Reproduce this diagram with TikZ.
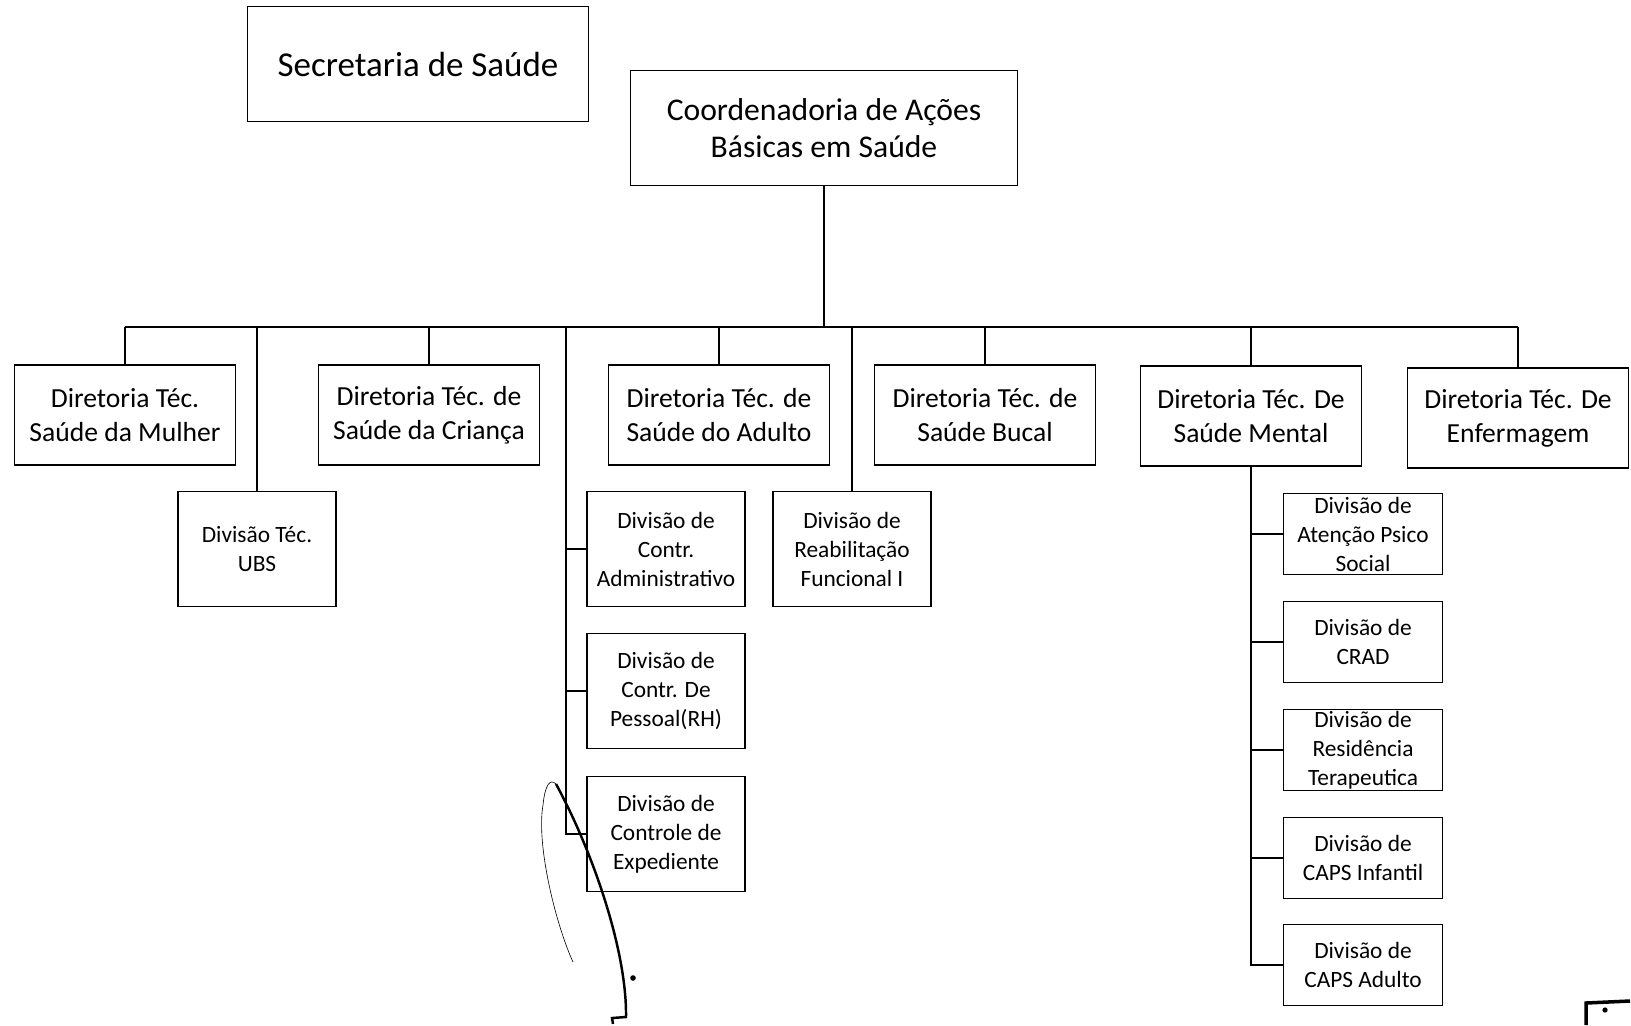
\documentclass[tikz,border=0pt]{standalone}
\usepackage{fontspec}
\setmainfont{Carlito}
\usepackage{tikz}
\usetikzlibrary{positioning,calc}

\begin{document}
\begin{tikzpicture}[x=0.02cm,y=-0.02cm,line width=0.7pt,
  diretoria/.style={draw,align=center,minimum width=4.42cm,minimum height=2cm,
    font=\fontsize{15.7}{19.5}\selectfont},
  divisao/.style={draw,align=center,minimum width=3.16cm,minimum height=2.3cm,
    font=\fontsize{13.3}{16.5}\selectfont},
  divmental/.style={draw,align=center,minimum width=3.18cm,minimum height=1.62cm,
    inner ysep=0pt,font=\fontsize{13.3}{16.5}\selectfont}]
  \useasboundingbox (0,0) rectangle (1631,1025);
  % top boxes
  \node[draw,minimum width=6.82cm,minimum height=2.3cm,font=\fontsize{19.9}{23}\selectfont] (sec) at (418,64) {Secretaria de Saúde};
  \node[draw,align=center,minimum width=7.74cm,minimum height=2.3cm,font=\fontsize{18}{21.3}\selectfont] (coord) at (824,128) {Coordenadoria de Ações\\Básicas em Saúde};
  % diretorias
  \node[diretoria] (mulher) at (125,415) {Diretoria Téc.\\Saúde da Mulher};
  \node[diretoria] (crianca) at (429,415) {Diretoria Téc. de\\Saúde da Criança};
  \node[diretoria] (adulto) at (719,415) {Diretoria Téc. de\\Saúde do Adulto};
  \node[diretoria] (bucal) at (985,415) {Diretoria Téc. de\\Saúde Bucal};
  \node[diretoria] (mental) at (1251,416) {Diretoria Téc. De\\Saúde Mental};
  \node[diretoria] (enferm) at (1518,418) {Diretoria Téc. De\\Enfermagem};
  % divisoes
  \node[divisao] (ubs) at (257,549) {Divisão Téc.\\UBS};
  \node[divisao] (admin) at (666,549) {Divisão de\\Contr.\\Administrativo};
  \node[divisao] (rh) at (666,691) {Divisão de\\Contr. De\\Pessoal(RH)};
  \node[divisao] (exped) at (666,834) {Divisão de\\Controle de\\Expediente};
  \node[divisao] (reab) at (852,549) {Divisão de\\Reabilitação\\Funcional I};
  \node[divmental] (psico) at (1363,534) {Divisão de\\Atenção Psico\\Social};
  \node[divmental] (crad) at (1363,642) {Divisão de\\CRAD};
  \node[divmental] (resid) at (1363,750) {Divisão de\\Residência\\Terapeutica};
  \node[divmental] (capsi) at (1363,858) {Divisão de\\CAPS Infantil};
  \node[divmental] (capsa) at (1363,965) {Divisão de\\CAPS Adulto};
  % connectors
  \coordinate (bus) at (824,327);
  \coordinate (trunkA) at (566,327);
  \draw (coord) -- (bus);
  \draw (mulher.north |- bus) -- (enferm.north |- bus);
  \foreach \n in {mulher,crianca,adulto,bucal,mental,enferm,ubs,reab} {
    \draw (\n.north) -- (\n.north |- bus);
  }
  \draw (trunkA) |- (exped.west);
  \foreach \n in {admin,rh} {
    \draw (\n.west) -- (\n.west -| trunkA);
  }
  \draw (mental.south) |- (capsa.west);
  \foreach \n in {psico,crad,resid,capsi} {
    \draw (\n.west) -- (\n.west -| mental.south);
  }
  % hand marks on the scan
  \draw[line width=0.35pt] (573,962) .. controls (556,925) and (536,845) .. (543,805)
    .. controls (545,785) and (550,778) .. (556,784);
  \draw[line width=1.4pt] (556,784) .. controls (592,850) and (627,950) .. (626,1017)
    -- (612,1018) -- (613,1024);
  \fill (633,978) circle (1.6pt);
  \draw[line width=2pt] (1586,1025) -- (1586,1003) -- (1630,1001);
  \fill (1605,1010) circle (1.5pt);
\end{tikzpicture}
\end{document}
